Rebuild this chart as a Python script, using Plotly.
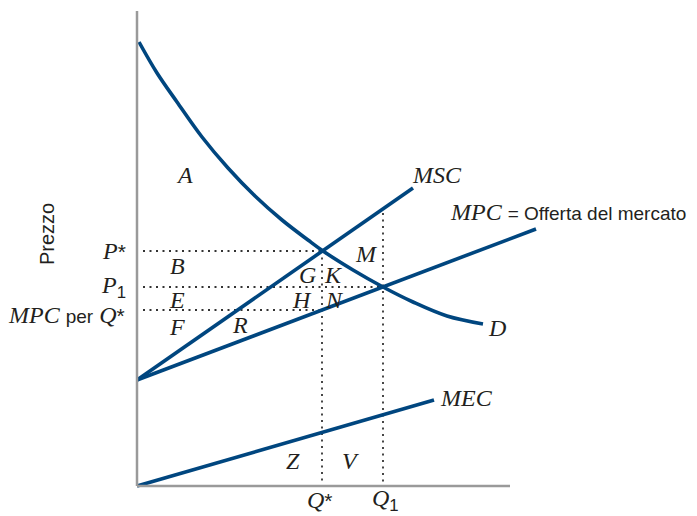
import plotly.graph_objects as go

# quantity / price units (1 unit ~ 1 px of the original drawing)
d_q = [2, 20, 40, 65, 91, 118, 145, 171, 186, 216, 246, 276, 310, 346]
d_p = [444, 413, 384, 349, 318, 290, 266, 246, 235, 216, 199, 184, 170, 162]
msc_q = [0, 276]
msc_p = [106, 298]
mpc_q = [0, 399]
mpc_p = [106, 257]
mec_q = [0, 297]
mec_p = [0, 86]

q_star, p_star = 185, 235
q_1, p_1 = 246, 199
mpc_at_qstar = 176
q1_guide_top = 273
guide_start = 6

area_labels = ["A", "B", "E", "F", "R", "G", "K", "H", "N", "M", "Z", "V"]
area_pos = [(47, 311), (40, 220), (40, 186), (40, 159), (103, 161), (170, 211),
            (196, 211), (165, 186), (197, 186), (229, 232), (156, 25), (213, 25)]

BLUE = "#00467f"
INK = "#231f20"
SERIF = "Liberation Serif, Times New Roman, serif"
SANS = "Liberation Sans, Arial, Helvetica, sans-serif"


def sans(t, size=19):
    return f"<span style='font-family:{SANS};font-style:normal;font-size:{size}px'>{t}</span>"


fig = go.Figure()

# guide lines
dot = dict(color="#333333", width=1.8, dash="2px,4.5px")
guides = [
    ([guide_start, q_star], [p_star, p_star]),
    ([guide_start, q_1], [p_1, p_1]),
    ([guide_start, q_star], [mpc_at_qstar, mpc_at_qstar]),
    ([q_star, q_star], [p_star, 0]),
    ([q_1, q_1], [q1_guide_top, 0]),
]
for gx, gy in guides:
    fig.add_trace(go.Scatter(x=gx, y=gy, mode="lines", line=dot, hoverinfo="skip"))

line = dict(color=BLUE, width=3.6)
fig.add_trace(go.Scatter(x=d_q, y=d_p, mode="lines", line=dict(line, shape="spline", smoothing=1.0), name="D"))
fig.add_trace(go.Scatter(x=msc_q, y=msc_p, mode="lines", line=line, name="MSC"))
fig.add_trace(go.Scatter(x=mpc_q, y=mpc_p, mode="lines", line=line, name="MPC"))
fig.add_trace(go.Scatter(x=mec_q, y=mec_p, mode="lines", line=line, name="MEC"))

# axes
axis = dict(color="#9a9a9a", width=2.5)
fig.add_shape(type="line", x0=0, x1=0, y0=0, y1=475, line=axis)
fig.add_shape(type="line", x0=0, x1=373, y0=0, y1=0, line=axis)

serif_font = dict(family=SERIF, size=24, color=INK)


def label(x, y, text, xa="center", ya="middle", font=serif_font, **kw):
    fig.add_annotation(x=x, y=y, text=text, showarrow=False, xanchor=xa,
                       yanchor=ya, font=font, **kw)


for t, (x, y) in zip(area_labels, area_pos):
    label(x, y, f"<i>{t}</i>")

label(360, 158, "<i>D</i>")
label(300, 311, "<i>MSC</i>")
label(329, 88, "<i>MEC</i>")
label(311, 274, "<i>MPC</i> " + sans("= Offerta del mercato"), xa="left")

label(-9, 235, "<i>P</i>" + sans("*", 21), xa="right")
label(-9, 199, "<i>P</i>" + sans("<sub>1</sub>", 24), xa="right")
label(-10, 171, "<i>MPC</i> " + sans("per") + " <i>Q</i>" + sans("*", 21), xa="right")
label(183, -14, "<i>Q</i>" + sans("*", 21))
label(248, -14, "<i>Q</i>" + sans("<sub>1</sub>", 24))
label(-90, 252, "Prezzo", font=dict(family=SANS, size=20, color=INK), textangle=-90)

# the page body adds an 8px offset, so the figure is 8px smaller and the
# ranges are chosen so that 1 unit = 1 px with the origin at (137, 486)
fig.update_layout(
    width=689, height=508,
    margin=dict(l=0, r=0, t=0, b=0),
    paper_bgcolor="white", plot_bgcolor="white",
    showlegend=False,
    xaxis=dict(range=[-129, 560], visible=False, fixedrange=True),
    yaxis=dict(range=[-30, 478], visible=False, fixedrange=True),
)

fig.write_html("out.html")
